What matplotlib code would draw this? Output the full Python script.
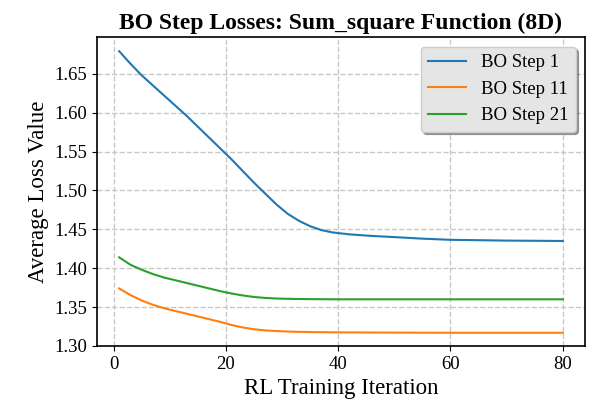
import matplotlib
matplotlib.use("Agg")
import matplotlib.pyplot as plt

plt.rcParams["font.family"] = ["Liberation Serif", "DejaVu Serif"]

# average loss per RL training iteration, one series per BO step
iter_step1 = [1, 3, 5, 7, 9, 11, 13, 15, 17, 19, 21, 23, 25, 27, 29, 31, 33, 35, 37, 39,
              42, 46, 50, 55, 60, 70, 80]
loss_step1 = [1.679, 1.663, 1.648, 1.635, 1.622, 1.609, 1.596, 1.582, 1.568, 1.554, 1.540,
              1.525, 1.510, 1.496, 1.482, 1.470, 1.461, 1.454, 1.449, 1.446,
              1.4435, 1.4415, 1.440, 1.438, 1.4365, 1.4355, 1.435]

iter_step11 = [1, 3, 5, 7, 9, 11, 13, 15, 17, 19, 21, 23, 25, 27, 29, 32, 36, 40, 50, 60, 80]
loss_step11 = [1.374, 1.3655, 1.3585, 1.353, 1.3485, 1.345, 1.3415, 1.338, 1.3345, 1.331,
               1.327, 1.3238, 1.3215, 1.320, 1.3192, 1.3183, 1.3178, 1.3175, 1.3172, 1.317, 1.317]

iter_step21 = [1, 3, 5, 7, 9, 11, 13, 15, 17, 19, 21, 23, 25, 27, 29, 32, 36, 40, 60, 80]
loss_step21 = [1.414, 1.4045, 1.398, 1.3925, 1.388, 1.3845, 1.381, 1.3775, 1.374, 1.3705,
               1.3675, 1.365, 1.363, 1.3618, 1.361, 1.3605, 1.3602, 1.360, 1.360, 1.360]

fig = plt.figure(figsize=(6.1, 4.08), dpi=100)
ax = fig.add_axes([0.159, 0.152, 0.800, 0.757])

ax.plot(iter_step1, loss_step1, color="#1f77b4", lw=1.5, label="BO Step 1")
ax.plot(iter_step11, loss_step11, color="#ff7f0e", lw=1.5, label="BO Step 11")
ax.plot(iter_step21, loss_step21, color="#2ca02c", lw=1.5, label="BO Step 21")

ax.set_ylim(bottom=1.30)
ax.set_xticks([0, 20, 40, 60, 80])
ax.grid(True, linestyle="--", color="#c8c8c8", lw=1.0)
ax.tick_params(labelsize=13.5)
for sp in ax.spines.values():
    sp.set_linewidth(1.2)

ax.set_title("BO Step Losses: Sum_square Function (8D)", fontsize=17, fontweight="bold")
ax.set_xlabel("RL Training Iteration", fontsize=16.5)
ax.set_ylabel("Average Loss Value", fontsize=16.5)
ax.legend(loc="upper right", fontsize=13.5, shadow=True, fancybox=True,
          facecolor="#e5e5e5", framealpha=1.0)

fig.savefig("out.png", dpi=100)
